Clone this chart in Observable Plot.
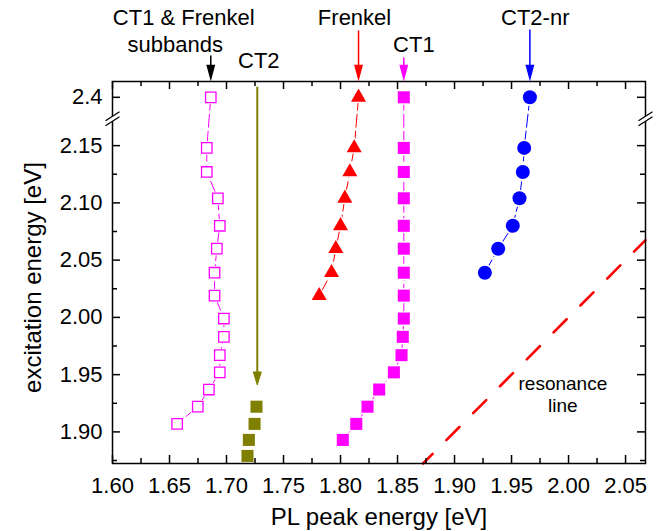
<!DOCTYPE html>
<html><head><meta charset="utf-8">
<script src="https://cdn.jsdelivr.net/npm/d3@7"></script>
<script src="https://cdn.jsdelivr.net/npm/@observablehq/plot@0.6"></script>
<style>
body{margin:0;background:#fff;}
svg{display:block;}
</style>
</head><body><div id="chart"></div>
<script>
// ---- data (eV) ----
// points plotted at excitation 2.4 eV sit above the axis break
const subbandsExc = [2.4, 2.148, 2.127, 2.104, 2.080, 2.060, 2.039, 2.019, 1.999, 1.983, 1.967, 1.952, 1.937, 1.922, 1.907];
const subbandsPL  = [1.6862, 1.6827, 1.6827, 1.6924, 1.6941, 1.6915, 1.6895, 1.6895, 1.6977, 1.6977, 1.6941, 1.6941, 1.6845, 1.6748, 1.6567];
const ct2Exc = [1.922, 1.907, 1.893, 1.879];
const ct2PL  = [1.7263, 1.7246, 1.7196, 1.7184];
const frenkelExc = [2.4, 2.148, 2.127, 2.104, 2.080, 2.060, 2.039, 2.019];
const frenkelPL  = [1.8158, 1.8120, 1.8082, 1.8038, 1.8000, 1.7959, 1.7921, 1.7813];
const ct1Exc = [2.4, 2.148, 2.127, 2.104, 2.080, 2.060, 2.039, 2.019, 1.999, 1.983, 1.967, 1.952, 1.937, 1.922, 1.907, 1.893];
const ct1PL  = [1.8555, 1.8555, 1.8555, 1.8555, 1.8555, 1.8555, 1.8555, 1.8555, 1.8555, 1.8546, 1.8535, 1.8468, 1.8339, 1.8237, 1.8138, 1.8020];
const ct2nrExc = [2.4, 2.148, 2.127, 2.104, 2.080, 2.060, 2.039];
const ct2nrPL  = [1.9661, 1.9611, 1.9599, 1.9570, 1.9511, 1.9383, 1.9266];

// olive CT2 arrow (from the 2.4 level down to its tip)
const ct2Arrow = {x: 1.727, from: 2.4, to: 1.941};

// tick values / labels
const xMajor = [1.60, 1.65, 1.70, 1.75, 1.80, 1.85, 1.90, 1.95, 2.00, 2.05];
const xMinor = [1.625, 1.675, 1.725, 1.775, 1.825, 1.875, 1.925, 1.975, 2.025];
const yMajor = [1.90, 1.95, 2.00, 2.05, 2.10, 2.15, 2.4];
const yMinor = [1.875, 1.925, 1.975, 2.025, 2.075, 2.125];
const yBreak = 2.1735;          // where the axis break marks sit
const xDomain = [1.60, 2.0675];
const yDomain = [1.8724, 2.206]; // in the compressed (post-break) space
const breakFrom = 2.4, breakTo = 2.1922;

const xLabel = "PL peak energy [eV]";
const yLabel = "excitation energy [eV]";

// annotation labels above the frame
const topLabels = [
  {label: "CT1 & Frenkel", x: 1.6625, row: 0},
  {label: "subbands", x: 1.6550, row: 1},
  {label: "CT2", x: 1.7283, row: 2},
  {label: "Frenkel", x: 1.8123, row: 0},
  {label: "CT1", x: 1.8643, row: 1},
  {label: "CT2-nr", x: 1.9708, row: 0}
];
// arrows above the frame: point at the top data point of each series
const topArrows = [
  {x: subbandsPL[0], color: "#000000", len: 23},
  {x: frenkelPL[0], color: "#ff0000", len: 48},
  {x: ct1PL[0], color: "#ff00ff", len: 21},
  {x: ct2nrPL[0], color: "#0000ff", len: 49}
];
const resonanceText = {x: 1.995, y: 1.9328, label: "resonance\nline"};

// ---- layout ----
const W = 665, H = 531, mL = 112, mR = 20, mT = 81, mB = 68;
const fW = W - mL - mR, fH = H - mT - mB;
const FONT = "'Liberation Sans', Arial, Helvetica, sans-serif";

const zip = (xs, ys) => xs.map((x, i) => ({x, y: ys[i]}));
const subbands = zip(subbandsPL, subbandsExc);
const ct2 = zip(ct2PL, ct2Exc);
const frenkel = zip(frenkelPL, frenkelExc);
const ct1 = zip(ct1PL, ct1Exc);
const ct2nr = zip(ct2nrPL, ct2nrExc);
// resonance line y = x across the visible frame
const resonance = [{x: yDomain[0], y: yDomain[0]}, {x: xDomain[1], y: xDomain[1]}];

// custom symbols
const arrowSym = (len, hw = 3.5, hl = 13) => ({
  draw(ctx) {
    ctx.moveTo(0, -len); ctx.lineTo(0, -hl + 1);
    ctx.moveTo(0, 0); ctx.lineTo(-hw, -hl); ctx.lineTo(hw, -hl); ctx.closePath();
  }
});
const headSym = {draw(ctx) { ctx.moveTo(0, 0); ctx.lineTo(-4, -13); ctx.lineTo(4, -13); ctx.closePath(); }};
const breakFillSym = {draw(ctx) { ctx.moveTo(-3, -0.58); ctx.lineTo(3, -4.42); ctx.lineTo(3, 0.58); ctx.lineTo(-3, 4.42); ctx.closePath(); }};
const breakLineSym = {draw(ctx) { ctx.moveTo(-7, 1.98); ctx.lineTo(7, -6.98); ctx.moveTo(-7, 6.98); ctx.lineTo(7, -1.98); }};

const rowDy = [-57, -29.5, -13.5];
const yFmt = d => d > 2.3 ? "2.4" : d.toFixed(2);

function series(data, color, symbol, r, opts = {}) {
  const m = [];
  if (!opts.noLine) m.push(Plot.line(data, {x: "x", y: "y", stroke: color, strokeWidth: 1, strokeDasharray: "13,4"}));
  m.push(Plot.dot(data, {x: "x", y: "y", symbol, r: r + 1.6, fill: "white", stroke: "none"}));
  if (opts.open) m.push(Plot.dot(data, {x: "x", y: "y", symbol, r, fill: "white", stroke: color, strokeWidth: 1.3}));
  else m.push(Plot.dot(data, {x: "x", y: "y", symbol, r, fill: color, stroke: "none"}));
  return m;
}

const chart = Plot.plot({
  width: W, height: H,
  marginLeft: mL, marginRight: mR, marginTop: mT, marginBottom: mB,
  style: {fontFamily: FONT, background: "white", color: "black", overflow: "visible"},
  x: {domain: xDomain, axis: null},
  y: {domain: yDomain, axis: null, transform: v => v > 2.3 ? v - breakFrom + breakTo : v},
  marks: [
    // resonance line
    Plot.line(resonance, {x: "x", y: "y", stroke: "#ff0000", strokeWidth: 2.6, strokeDasharray: "18.5,19.5", strokeDashoffset: 5}),
    Plot.text([resonanceText], {x: "x", y: "y", text: "label", fontSize: 19, lineHeight: 1.16, fill: "black"}),
    // olive CT2 arrow
    Plot.ruleX([ct2Arrow], {x: "x", y1: "from", y2: "to", dy: -10, stroke: "#808000", strokeWidth: 2}),
    Plot.dot([ct2Arrow], {x: "x", y: "to", symbol: headSym, fill: "#808000", stroke: "#808000", strokeWidth: 1}),
    // series
    ...series(subbands, "#ff00ff", "square", 5.9, {open: true}),
    ...series(ct2, "#808000", "square", 6.8, {noLine: true}),
    ...series(frenkel, "#ff0000", "triangle", 5.6),
    ...series(ct1, "#ff00ff", "square", 6.8),
    ...series(ct2nr, "#0000ff", "circle", 7),
    // frame
    Plot.frame({stroke: "black", strokeWidth: 1.5}),
    // ticks (inward, all four sides)
    Plot.ruleX(xMajor, {x: d => d, insetTop: fH - 8, strokeWidth: 1.5}),
    Plot.ruleX(xMinor, {x: d => d, insetTop: fH - 5, strokeWidth: 1.5}),
    Plot.ruleX(xMajor, {x: d => d, insetBottom: fH - 8, strokeWidth: 1.5}),
    Plot.ruleX(xMinor, {x: d => d, insetBottom: fH - 5, strokeWidth: 1.5}),
    Plot.ruleY(yMajor, {y: d => d, insetRight: fW - 8, strokeWidth: 1.5}),
    Plot.ruleY(yMinor, {y: d => d, insetRight: fW - 5, strokeWidth: 1.5}),
    Plot.ruleY(yMajor, {y: d => d, insetLeft: fW - 8, strokeWidth: 1.5}),
    Plot.ruleY(yMinor, {y: d => d, insetLeft: fW - 5, strokeWidth: 1.5}),
    // axis break marks
    Plot.dot([yBreak], {y: d => d, frameAnchor: "left", symbol: breakFillSym, fill: "white", stroke: "none"}),
    Plot.dot([yBreak], {y: d => d, frameAnchor: "right", symbol: breakFillSym, fill: "white", stroke: "none"}),
    Plot.dot([yBreak], {y: d => d, frameAnchor: "left", symbol: breakLineSym, fill: "none", stroke: "black", strokeWidth: 1.3}),
    Plot.dot([yBreak], {y: d => d, frameAnchor: "right", symbol: breakLineSym, fill: "none", stroke: "black", strokeWidth: 1.3}),
    // tick labels
    Plot.text(xMajor, {x: d => d, text: d => d.toFixed(2), frameAnchor: "bottom", textAnchor: "middle", lineAnchor: "top", dy: 14, fontSize: 22, fill: "black"}),
    Plot.text(yMajor, {y: d => d, text: yFmt, frameAnchor: "left", textAnchor: "end", dx: -10, fontSize: 22, fill: "black"}),
    // axis titles
    Plot.text([xLabel], {text: d => d, frameAnchor: "bottom", textAnchor: "middle", lineAnchor: "top", dy: 44, fontSize: 24, fill: "black"}),
    Plot.text([yLabel], {text: d => d, frameAnchor: "left", textAnchor: "middle", rotate: -90, lineAnchor: "bottom", dx: -72, dy: 5, fontSize: 24, fill: "black"}),
    // top annotations
    ...topLabels.map(a => Plot.text([a], {x: "x", text: "label", frameAnchor: "top", textAnchor: "middle", lineAnchor: "bottom", dy: rowDy[a.row], fontSize: 22, fill: "black"})),
    ...topArrows.map(a => Plot.dot([a], {x: "x", frameAnchor: "top", dy: -3, symbol: arrowSym(a.len), fill: a.color, stroke: a.color, strokeWidth: 1.5}))
  ]
});
document.getElementById("chart").appendChild(chart);
</script>
</body></html>
